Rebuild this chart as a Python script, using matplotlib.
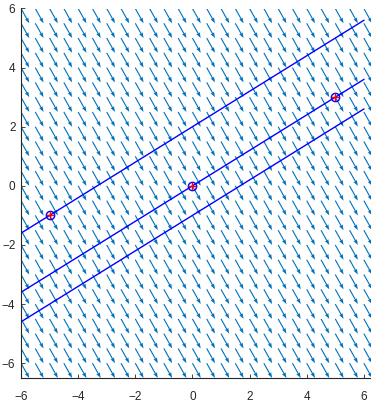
import numpy as np
import matplotlib
matplotlib.use("Agg")
import matplotlib.pyplot as plt

# grid of the direction field
x_grid = np.arange(-6, 6.01, 0.5)
y_grid = np.arange(-6, 6.01, 0.5)
u_dir = 0.29   # x component of each arrow
v_dir = -0.5   # y component of each arrow

# lines y = m*x + b
slope = 0.6
intercepts = [2.0, 0.0, -1.0]
line_x = [-6, 6]

# marked points
pts_x = [-5, 0, 5]
pts_y = [-1, 0, 3]

xticks = [-6, -4, -2, 0, 2, 4, 6]
yticks = [-6, -4, -2, 0, 2, 4, 6]

plt.rcParams['font.family'] = ['Liberation Sans', 'DejaVu Sans']
fig = plt.figure(figsize=(3.71, 4.05), dpi=100)
L = 21 / 371
B = 27 / 405
T = 8.5 / 405
ax = fig.add_axes([L, B, 1 - L, 1 - B - T])

X, Y = np.meshgrid(x_grid, y_grid)
U = np.full_like(X, u_dir)
V = np.full_like(Y, v_dir)
ax.quiver(X, Y, U, V, color='#0072BD', angles='xy', scale_units='xy', scale=1,
          width=0.0032, headwidth=3.5, headlength=5, headaxislength=4.5, zorder=1)

for b in intercepts:
    ax.plot(line_x, [slope * xv + b for xv in line_x], color='blue', lw=1.0, zorder=2)

ax.plot(pts_x, pts_y, 'o', mfc='none', mec='blue', ms=6, mew=1.0, zorder=3)
ax.plot(pts_x, pts_y, '+', color='red', ms=6, mew=1.0, zorder=4)

ax.set_xlim(-6, 6.25)
ax.set_ylim(-6.5, 6)
ax.set_xticks(xticks)
ax.set_yticks(yticks)
for s in ['top', 'right']:
    ax.spines[s].set_visible(False)
for s in ['left', 'bottom']:
    ax.spines[s].set_color('#262626')
    ax.spines[s].set_linewidth(0.8)
ax.tick_params(direction='in', length=3, width=0.6, colors='#262626', labelsize=8.5)
ax.tick_params(axis='x', pad=9)
ax.tick_params(axis='y', pad=4)

fig.savefig('out.png', dpi=100)
